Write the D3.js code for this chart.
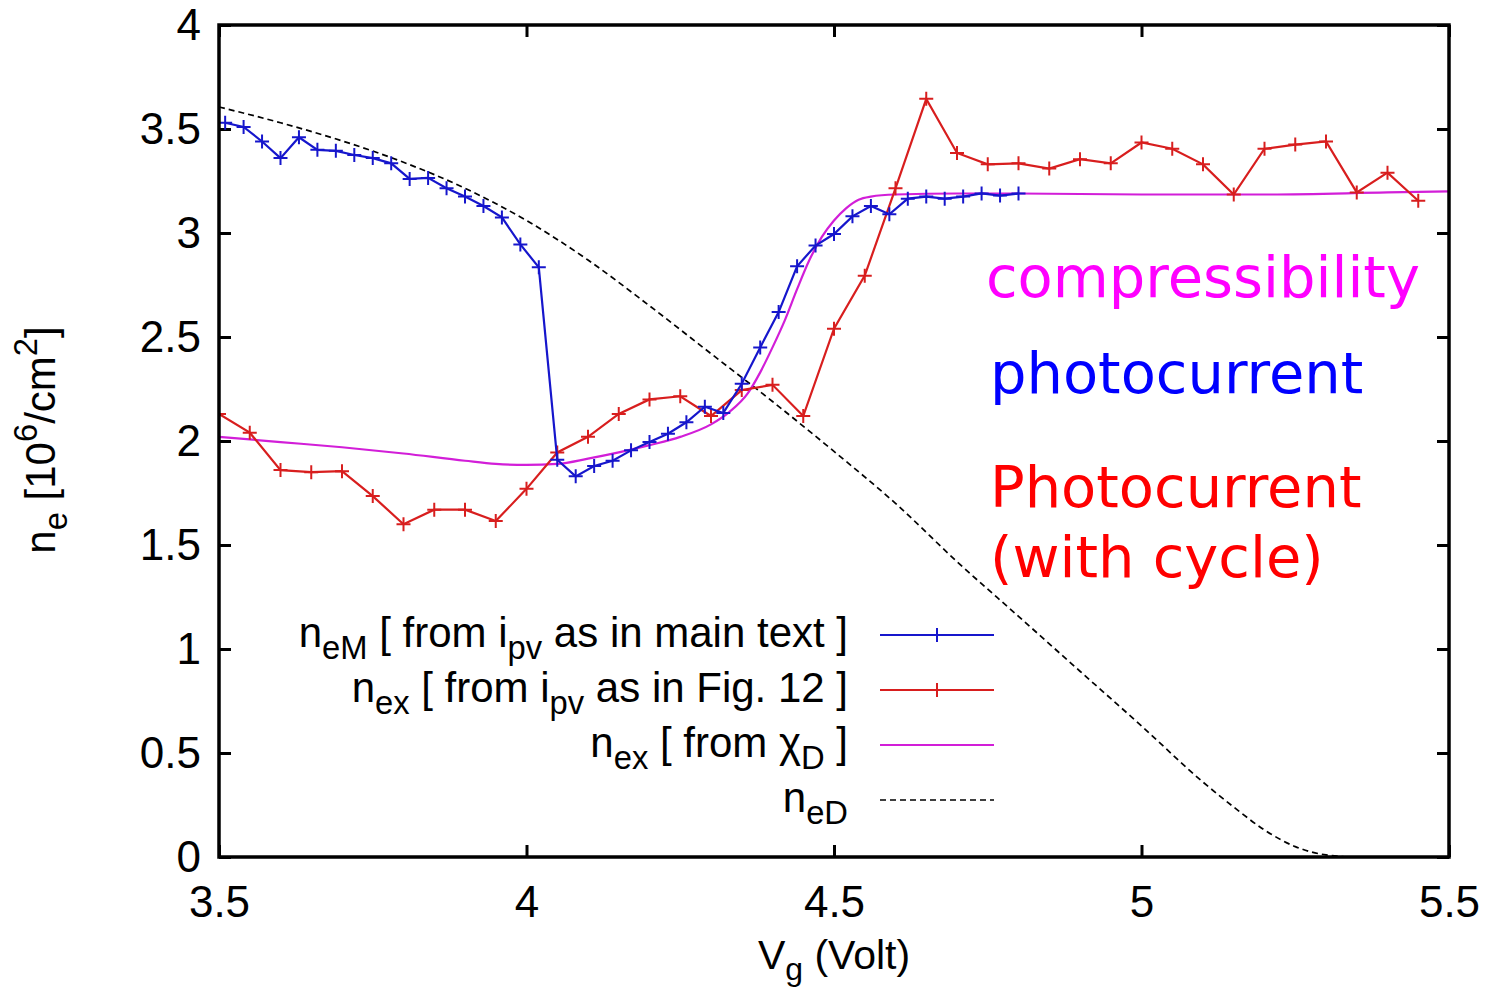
<!DOCTYPE html>
<html><head><meta charset="utf-8">
<script src="https://cdn.jsdelivr.net/npm/d3@7"></script>
<style>
  body { margin: 0; background: #fff; }
  svg { display: block; }
  text { font-family: "Liberation Sans", Arial, sans-serif; }
</style>
</head><body>
<svg id="chart" width="1488" height="991"></svg>
<script>
// n_eM extracted from the photovoltaic current (main-text method)
const voltsM = [3.51,3.54,3.57,3.60,3.63,3.66,3.69,3.72,3.75,3.78,3.81,3.84,3.87,3.90,3.93,3.96,3.99,4.02,
  4.05,4.08,4.11,4.14,4.17,4.20,4.23,4.26,4.29,4.32,4.35,4.38,4.41,4.44,4.47,4.50,4.53,4.56,4.59,4.62,4.65,
  4.68,4.71,4.74,4.77,4.80];
const neM = [3.53,3.51,3.44,3.36,3.46,3.40,3.395,3.375,3.36,3.335,3.26,3.265,3.215,3.175,3.13,3.075,2.945,2.835,
  1.91,1.83,1.88,1.905,1.955,1.995,2.035,2.09,2.165,2.135,2.275,2.45,2.62,2.84,2.94,2.995,3.08,3.13,3.09,3.165,3.175,
  3.165,3.175,3.19,3.18,3.19];

// n_ex extracted from the photovoltaic current with the Fig. 12 cycle
const voltsX = [3.50,3.55,3.60,3.65,3.70,3.75,3.80,3.85,3.90,3.95,4.00,4.05,4.10,4.15,4.20,4.25,4.30,4.35,4.40,4.45,
  4.50,4.55,4.60,4.65,4.70,4.75,4.80,4.85,4.90,4.95,5.00,5.05,5.10,5.15,5.20,5.25,5.30,5.35,5.40,5.45];
const neX = [2.13,2.04,1.86,1.85,1.855,1.735,1.60,1.67,1.67,1.615,1.77,1.945,2.02,2.13,2.20,2.215,2.12,2.245,2.27,2.12,
  2.54,2.795,3.215,3.645,3.385,3.33,3.335,3.31,3.355,3.335,3.435,3.405,3.33,3.185,3.405,3.425,3.44,3.195,3.29,3.155];

// n_ex from the compressibility chi_D
const voltsChi = [3.50,3.60,3.70,3.80,3.90,3.95,4.00,4.05,4.10,4.15,4.20,4.25,4.30,4.33,4.36,4.38,4.40,4.42,4.44,
  4.46,4.48,4.50,4.52,4.54,4.56,4.60,4.70,4.80,5.00,5.20,5.40,5.50];
const neChi = [2.02,1.995,1.97,1.94,1.905,1.89,1.885,1.89,1.915,1.945,1.98,2.02,2.08,2.14,2.23,2.33,2.45,2.58,2.73,
  2.87,2.98,3.06,3.12,3.16,3.175,3.185,3.19,3.19,3.185,3.185,3.195,3.20];

// n_eD
const voltsD = [3.50,3.60,3.70,3.80,3.90,4.00,4.10,4.20,4.30,4.40,4.50,4.60,4.70,4.80,4.90,5.00,5.10,5.15,5.20,
  5.25,5.30,5.35,5.50];
const neD = [3.606,3.53,3.443,3.34,3.215,3.06,2.87,2.65,2.42,2.19,1.95,1.70,1.42,1.157,0.893,0.63,0.36,0.24,0.13,
  0.05,0.01,0.0,0.0];

const xTicks = [3.5, 4, 4.5, 5, 5.5];
const yTicks = [0, 0.5, 1, 1.5, 2, 2.5, 3, 3.5, 4];

const blue = "#1616cc", red = "#d81e1e", magenta = "#d21ed8";

const svg = d3.select("#chart");
const pLeft = 219, pRight = 1449, pTop = 25, pBottom = 857;
const x = d3.scaleLinear().domain([3.5, 5.5]).range([pLeft, pRight]);
const y = d3.scaleLinear().domain([0, 4]).range([pBottom, pTop]);

svg.append("defs").append("clipPath").attr("id", "plotClip")
  .append("rect").attr("x", pLeft).attr("y", pTop).attr("width", pRight - pLeft).attr("height", pBottom - pTop);

const fmt = d => String(d);
const tickLen = 12;

// axes with inward ticks, mirrored on top and right
const ax = svg.append("g").attr("class", "axes");
ax.append("g").attr("transform", `translate(0,${pBottom})`)
  .call(d3.axisBottom(x).tickValues(xTicks).tickSize(-tickLen).tickPadding(29).tickFormat(fmt));
ax.append("g").attr("transform", `translate(0,${pTop})`)
  .call(d3.axisTop(x).tickValues(xTicks).tickSize(-tickLen).tickFormat(""));
ax.append("g").attr("transform", `translate(${pLeft},0)`)
  .call(d3.axisLeft(y).tickValues(yTicks).tickSize(-tickLen).tickPadding(18).tickFormat(fmt));
ax.append("g").attr("transform", `translate(${pRight},0)`)
  .call(d3.axisRight(y).tickValues(yTicks).tickSize(-tickLen).tickFormat(""));
ax.selectAll(".domain").remove();
ax.selectAll(".tick line").attr("stroke", "#000").attr("stroke-width", 3);
ax.selectAll(".tick text").attr("font-size", 44).attr("fill", "#000")
  .style("font-family", '"Liberation Sans", Arial, sans-serif');

const plot = svg.append("g").attr("clip-path", "url(#plotClip)");

const line = (xs, ys, curve) => d3.line().curve(curve || d3.curveLinear)
  .x((d, i) => x(xs[i])).y((d, i) => y(ys[i]))(ys);

// n_eD dashed
plot.append("path").attr("d", line(voltsD, neD, d3.curveMonotoneX))
  .attr("fill", "none").attr("stroke", "#000").attr("stroke-width", 1.7).attr("stroke-dasharray", "6,4");

// compressibility curve
plot.append("path").attr("d", line(voltsChi, neChi, d3.curveMonotoneX))
  .attr("fill", "none").attr("stroke", magenta).attr("stroke-width", 2.2);

const plus = "M-7,0H7M0,-7V7";
function series(xs, ys, color) {
  plot.append("path").attr("d", line(xs, ys))
    .attr("fill", "none").attr("stroke", color).attr("stroke-width", 2.2);
  plot.append("g").selectAll("path").data(ys).join("path")
    .attr("d", plus).attr("transform", (d, i) => `translate(${x(xs[i])},${y(d)})`)
    .attr("stroke", color).attr("stroke-width", 2).attr("fill", "none");
}
series(voltsX, neX, red);
series(voltsM, neM, blue);

// frame
svg.append("rect").attr("x", pLeft).attr("y", pTop).attr("width", pRight - pLeft).attr("height", pBottom - pTop)
  .attr("fill", "none").attr("stroke", "#000").attr("stroke-width", 3.5);

// text with sub/superscripts: parts = [[text, "sub"|"sup"|undefined], ...]
function richText(g, parts, fs) {
  const t = g.append("text").attr("font-size", fs).attr("fill", "#000");
  let shift = 0;
  parts.forEach(([s, kind]) => {
    const target = kind === "sub" ? 0.28 * fs : kind === "sup" ? -0.42 * fs : 0;
    t.append("tspan").attr("dy", target - shift)
      .attr("font-size", kind ? fs * 0.78 : fs).text(s);
    shift = target;
  });
  return t;
}

// legend
const legendFs = 42;
const legend = [
  { parts: [["n"], ["eM", "sub"], [" [ from i"], ["pv", "sub"], [" as in main text ]"]], color: blue, marker: true, dash: null, yv: 635 },
  { parts: [["n"], ["ex", "sub"], [" [ from i"], ["pv", "sub"], [" as in Fig. 12 ]"]], color: red, marker: true, dash: null, yv: 690 },
  { parts: [["n"], ["ex", "sub"], [" [ from χ"], ["D", "sub"], [" ]"]], color: magenta, marker: false, dash: null, yv: 745 },
  { parts: [["n"], ["eD", "sub"]], color: "#000", marker: false, dash: "6,4", yv: 800 }
];
const lg = svg.append("g");
legend.forEach(e => {
  const t = richText(lg, e.parts, legendFs);
  t.attr("x", 848).attr("y", e.yv + 12).attr("text-anchor", "end");
  lg.append("line").attr("x1", 880).attr("x2", 994).attr("y1", e.yv).attr("y2", e.yv)
    .attr("stroke", e.color).attr("stroke-width", e.dash ? 1.7 : 2.2)
    .attr("stroke-dasharray", e.dash);
  if (e.marker) lg.append("path").attr("d", plus).attr("transform", `translate(937,${e.yv})`)
    .attr("stroke", e.color).attr("stroke-width", 2);
});

// axis titles
const xl = richText(svg.append("g"), [["V"], ["g", "sub"], [" (Volt)"]], 41);
xl.attr("x", 834).attr("y", 969).attr("text-anchor", "middle");
const yg = svg.append("g").attr("transform", "translate(55,440) rotate(-90)");
const yl = richText(yg, [["n"], ["e", "sub"], [" [10"], ["6", "sup"], ["/cm"], ["2", "sup"], ["]"]], 42);
yl.attr("x", 0).attr("y", 0).attr("text-anchor", "middle");

// annotations
const ann = svg.append("g").attr("font-size", 57.5);
const annFont = '"DejaVu Sans", sans-serif';
ann.append("text").attr("x", 986).attr("y", 297).attr("fill", "#ff00ff").style("font-family", annFont).text("compressibility");
ann.append("text").attr("x", 990).attr("y", 393).attr("fill", "#0000ff").style("font-family", annFont).text("photocurrent");
ann.append("text").attr("x", 990).attr("y", 507).attr("fill", "#ff0000").style("font-family", annFont).text("Photocurrent");
ann.append("text").attr("x", 990).attr("y", 577).attr("fill", "#ff0000").style("font-family", annFont).text("(with cycle)");
</script>
</body></html>
